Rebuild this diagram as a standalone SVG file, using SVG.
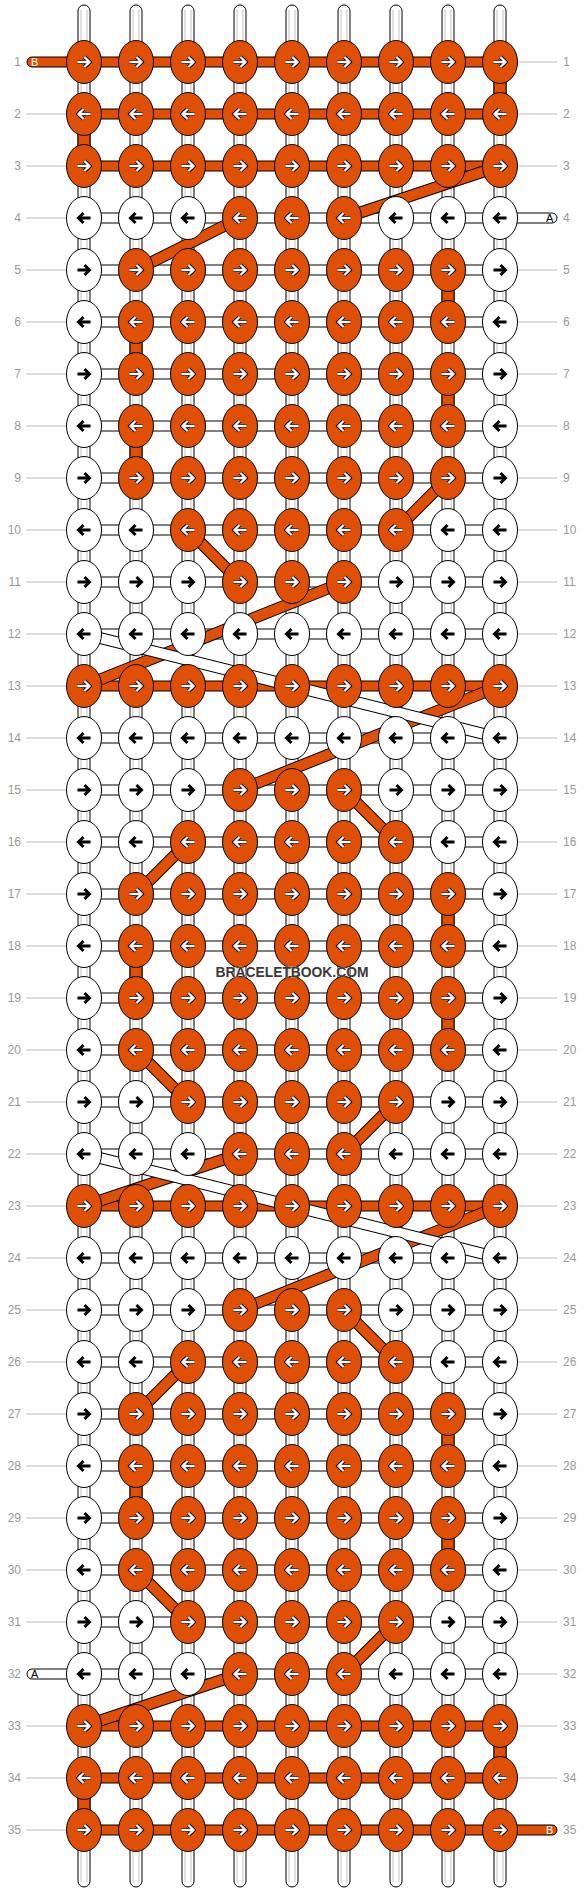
<svg xmlns="http://www.w3.org/2000/svg" xmlns:xlink="http://www.w3.org/1999/xlink" width="584" height="1892" viewBox="0 0 584 1892">
<style>
.tb{fill:#fff;stroke:#000;stroke-width:1}
.gl{stroke:#c4c4c4;stroke-width:1}
.hw{fill:#fff;stroke:#000;stroke-width:1}
.ho{fill:#DF4F05;stroke:#000;stroke-width:1}
.ll{stroke:#bbb;stroke-width:1}
.lb{font-family:"Liberation Sans",Arial,sans-serif;font-size:12px;fill:#999}
.lr{text-anchor:end}
.th{font-family:"Liberation Sans",Arial,sans-serif;font-size:11px}
.bk{fill:none;stroke:#000;stroke-width:12}
.bo{fill:none;stroke:#DF4F05;stroke-width:10}
.bw{fill:none;stroke:#fff;stroke-width:10}
.ko{fill:#DF4F05;stroke:#000;stroke-width:1}
.kw{fill:#fff;stroke:#000;stroke-width:1}
.ao{fill:none;stroke:#000;stroke-width:4.2}
.ai{fill:none;stroke:#fff;stroke-width:2.3}
.ab{fill:none;stroke:#000;stroke-width:3}
</style>
<defs>
<path id="pr" d="M-6.5,0H5.5M0.5,-5L5.5,0L0.5,5"/>
<path id="pl" d="M6.5,0H-5.5M-0.5,-5L-5.5,0L-0.5,5"/>
<g id="OR"><ellipse class="ko" rx="17.5" ry="21.5"/><use xlink:href="#pr" class="ao"/><use xlink:href="#pr" class="ai"/></g>
<g id="OL"><ellipse class="ko" rx="17.5" ry="21.5"/><use xlink:href="#pl" class="ao"/><use xlink:href="#pl" class="ai"/></g>
<g id="WR"><ellipse class="kw" rx="17.5" ry="21.5"/><use xlink:href="#pr" class="ab"/></g>
<g id="WL"><ellipse class="kw" rx="17.5" ry="21.5"/><use xlink:href="#pl" class="ab"/></g>
</defs>
<rect width="584" height="1892" fill="#fff"/>
<g id="labels">
<g class="ll">
<path d="M26,114H84M26,166H84M26,218H84M26,270H84M26,322H84M26,374H84M26,426H84M26,478H84M26,530H84M26,582H84M26,634H84M26,686H84M26,738H84M26,790H84M26,842H84M26,894H84M26,946H84M26,998H84M26,1050H84M26,1102H84M26,1154H84M26,1206H84M26,1258H84M26,1310H84M26,1362H84M26,1414H84M26,1466H84M26,1518H84M26,1570H84M26,1622H84M26,1726H84M26,1778H84M26,1830H84"/>
<path d="M500,62H557M500,114H557M500,166H557M500,270H557M500,322H557M500,374H557M500,426H557M500,478H557M500,530H557M500,582H557M500,634H557M500,686H557M500,738H557M500,790H557M500,842H557M500,894H557M500,946H557M500,998H557M500,1050H557M500,1102H557M500,1154H557M500,1206H557M500,1258H557M500,1310H557M500,1362H557M500,1414H557M500,1466H557M500,1518H557M500,1570H557M500,1622H557M500,1674H557M500,1726H557M500,1778H557"/>
</g>
<g class="lb lr">
<text x="21" y="66">1</text><text x="21" y="118">2</text><text x="21" y="170">3</text><text x="21" y="222">4</text><text x="21" y="274">5</text><text x="21" y="326">6</text><text x="21" y="378">7</text><text x="21" y="430">8</text><text x="21" y="482">9</text><text x="21" y="534">10</text><text x="21" y="586">11</text><text x="21" y="638">12</text><text x="21" y="690">13</text><text x="21" y="742">14</text><text x="21" y="794">15</text><text x="21" y="846">16</text><text x="21" y="898">17</text><text x="21" y="950">18</text><text x="21" y="1002">19</text><text x="21" y="1054">20</text><text x="21" y="1106">21</text><text x="21" y="1158">22</text><text x="21" y="1210">23</text><text x="21" y="1262">24</text><text x="21" y="1314">25</text><text x="21" y="1366">26</text><text x="21" y="1418">27</text><text x="21" y="1470">28</text><text x="21" y="1522">29</text><text x="21" y="1574">30</text><text x="21" y="1626">31</text><text x="21" y="1678">32</text><text x="21" y="1730">33</text><text x="21" y="1782">34</text><text x="21" y="1834">35</text>
</g>
<g class="lb">
<text x="563" y="66">1</text><text x="563" y="118">2</text><text x="563" y="170">3</text><text x="563" y="222">4</text><text x="563" y="274">5</text><text x="563" y="326">6</text><text x="563" y="378">7</text><text x="563" y="430">8</text><text x="563" y="482">9</text><text x="563" y="534">10</text><text x="563" y="586">11</text><text x="563" y="638">12</text><text x="563" y="690">13</text><text x="563" y="742">14</text><text x="563" y="794">15</text><text x="563" y="846">16</text><text x="563" y="898">17</text><text x="563" y="950">18</text><text x="563" y="1002">19</text><text x="563" y="1054">20</text><text x="563" y="1106">21</text><text x="563" y="1158">22</text><text x="563" y="1210">23</text><text x="563" y="1262">24</text><text x="563" y="1314">25</text><text x="563" y="1366">26</text><text x="563" y="1418">27</text><text x="563" y="1470">28</text><text x="563" y="1522">29</text><text x="563" y="1574">30</text><text x="563" y="1626">31</text><text x="563" y="1678">32</text><text x="563" y="1730">33</text><text x="563" y="1782">34</text><text x="563" y="1834">35</text>
</g>
</g>
<g id="strings">
<rect class="tb" x="78" y="5" width="12" height="1882" rx="6"/>
<rect class="tb" x="130" y="5" width="12" height="1882" rx="6"/>
<rect class="tb" x="182" y="5" width="12" height="1882" rx="6"/>
<rect class="tb" x="234" y="5" width="12" height="1882" rx="6"/>
<rect class="tb" x="286" y="5" width="12" height="1882" rx="6"/>
<rect class="tb" x="338" y="5" width="12" height="1882" rx="6"/>
<rect class="tb" x="390" y="5" width="12" height="1882" rx="6"/>
<rect class="tb" x="442" y="5" width="12" height="1882" rx="6"/>
<rect class="tb" x="494" y="5" width="12" height="1882" rx="6"/>
<path class="gl" d="M81,10V1882M87,10V1882M133,10V1882M139,10V1882M185,10V1882M191,10V1882M237,10V1882M243,10V1882M289,10V1882M295,10V1882M341,10V1882M347,10V1882M393,10V1882M399,10V1882M445,10V1882M451,10V1882M497,10V1882M503,10V1882"/>
</g>
<g id="connectors">
<rect class="ho" x="494" y="62" width="12" height="52"/>
<rect class="ho" x="78" y="114" width="12" height="52"/>
<rect class="ho" x="442" y="270" width="12" height="52"/>
<rect class="ho" x="130" y="322" width="12" height="52"/>
<rect class="ho" x="442" y="374" width="12" height="52"/>
<rect class="ho" x="130" y="426" width="12" height="52"/>
<rect class="ho" x="442" y="894" width="12" height="52"/>
<rect class="ho" x="130" y="946" width="12" height="52"/>
<rect class="ho" x="442" y="998" width="12" height="52"/>
<rect class="ho" x="442" y="1414" width="12" height="52"/>
<rect class="ho" x="130" y="1466" width="12" height="52"/>
<rect class="ho" x="442" y="1518" width="12" height="52"/>
<rect class="ho" x="494" y="1726" width="12" height="52"/>
<rect class="ho" x="78" y="1778" width="12" height="52"/>
<rect class="ho" x="84" y="57" width="416" height="10"/>
<rect class="ho" x="84" y="109" width="416" height="10"/>
<rect class="ho" x="84" y="161" width="416" height="10"/>
<rect class="hw" x="84" y="213" width="416" height="10"/>
<rect class="hw" x="84" y="265" width="416" height="10"/>
<rect class="hw" x="84" y="317" width="416" height="10"/>
<rect class="hw" x="84" y="369" width="416" height="10"/>
<rect class="hw" x="84" y="421" width="416" height="10"/>
<rect class="hw" x="84" y="473" width="416" height="10"/>
<rect class="hw" x="84" y="525" width="416" height="10"/>
<rect class="hw" x="84" y="577" width="416" height="10"/>
<rect class="hw" x="84" y="629" width="416" height="10"/>
<rect class="ho" x="84" y="681" width="416" height="10"/>
<rect class="hw" x="84" y="733" width="416" height="10"/>
<rect class="hw" x="84" y="785" width="416" height="10"/>
<rect class="hw" x="84" y="837" width="416" height="10"/>
<rect class="hw" x="84" y="889" width="416" height="10"/>
<rect class="hw" x="84" y="941" width="416" height="10"/>
<rect class="hw" x="84" y="993" width="416" height="10"/>
<rect class="hw" x="84" y="1045" width="416" height="10"/>
<rect class="hw" x="84" y="1097" width="416" height="10"/>
<rect class="hw" x="84" y="1149" width="416" height="10"/>
<rect class="ho" x="84" y="1201" width="416" height="10"/>
<rect class="hw" x="84" y="1253" width="416" height="10"/>
<rect class="hw" x="84" y="1305" width="416" height="10"/>
<rect class="hw" x="84" y="1357" width="416" height="10"/>
<rect class="hw" x="84" y="1409" width="416" height="10"/>
<rect class="hw" x="84" y="1461" width="416" height="10"/>
<rect class="hw" x="84" y="1513" width="416" height="10"/>
<rect class="hw" x="84" y="1565" width="416" height="10"/>
<rect class="hw" x="84" y="1617" width="416" height="10"/>
<rect class="hw" x="84" y="1669" width="416" height="10"/>
<rect class="ho" x="84" y="1721" width="416" height="10"/>
<rect class="ho" x="84" y="1773" width="416" height="10"/>
<rect class="ho" x="84" y="1825" width="416" height="10"/>
<rect class="ho" x="27" y="57" width="62" height="10" rx="5"/>
<rect class="hw" x="495" y="213" width="62" height="10" rx="5"/>
<rect class="hw" x="27" y="1669" width="62" height="10" rx="5"/>
<rect class="ho" x="495" y="1825" width="62" height="10" rx="5"/>
<text class="th" x="31" y="66" fill="#fff">B</text>
<text class="th" x="546" y="222" fill="#000">A</text>
<text class="th" x="31" y="1678" fill="#000">A</text>
<text class="th" x="546" y="1834" fill="#fff">B</text>
<path class="bk" d="M500,166L344,218M240,218L136,270M448,478L396,530M188,530L240,582M344,582L84,686M500,686L240,790M344,790L396,842M188,842L136,894M136,1050L188,1102M396,1102L344,1154M240,1154L84,1206M500,1206L240,1310M344,1310L396,1362M188,1362L136,1414M136,1570L188,1622M396,1622L344,1674M240,1674L84,1726"/>
<path class="bo" d="M500,166L344,218M240,218L136,270M448,478L396,530M188,530L240,582M344,582L84,686M500,686L240,790M344,790L396,842M188,842L136,894M136,1050L188,1102M396,1102L344,1154M240,1154L84,1206M500,1206L240,1310M344,1310L396,1362M188,1362L136,1414M136,1570L188,1622M396,1622L344,1674M240,1674L84,1726"/>
<path class="bk" d="M84,634L500,738M84,1154L500,1258"/>
<path class="bw" d="M84,634L500,738M84,1154L500,1258"/>
</g>
<g id="knots">
<g id="n1-1"><use xlink:href="#OR" x="84" y="62"/></g><g id="n1-2"><use xlink:href="#OR" x="136" y="62"/></g><g id="n1-3"><use xlink:href="#OR" x="188" y="62"/></g><g id="n1-4"><use xlink:href="#OR" x="240" y="62"/></g><g id="n1-5"><use xlink:href="#OR" x="292" y="62"/></g><g id="n1-6"><use xlink:href="#OR" x="344" y="62"/></g><g id="n1-7"><use xlink:href="#OR" x="396" y="62"/></g><g id="n1-8"><use xlink:href="#OR" x="448" y="62"/></g><g id="n1-9"><use xlink:href="#OR" x="500" y="62"/></g>
<g id="n2-1"><use xlink:href="#OL" x="84" y="114"/></g><g id="n2-2"><use xlink:href="#OL" x="136" y="114"/></g><g id="n2-3"><use xlink:href="#OL" x="188" y="114"/></g><g id="n2-4"><use xlink:href="#OL" x="240" y="114"/></g><g id="n2-5"><use xlink:href="#OL" x="292" y="114"/></g><g id="n2-6"><use xlink:href="#OL" x="344" y="114"/></g><g id="n2-7"><use xlink:href="#OL" x="396" y="114"/></g><g id="n2-8"><use xlink:href="#OL" x="448" y="114"/></g><g id="n2-9"><use xlink:href="#OL" x="500" y="114"/></g>
<g id="n3-1"><use xlink:href="#OR" x="84" y="166"/></g><g id="n3-2"><use xlink:href="#OR" x="136" y="166"/></g><g id="n3-3"><use xlink:href="#OR" x="188" y="166"/></g><g id="n3-4"><use xlink:href="#OR" x="240" y="166"/></g><g id="n3-5"><use xlink:href="#OR" x="292" y="166"/></g><g id="n3-6"><use xlink:href="#OR" x="344" y="166"/></g><g id="n3-7"><use xlink:href="#OR" x="396" y="166"/></g><g id="n3-8"><use xlink:href="#OR" x="448" y="166"/></g><g id="n3-9"><use xlink:href="#OR" x="500" y="166"/></g>
<g id="n4-1"><use xlink:href="#WL" x="84" y="218"/></g><g id="n4-2"><use xlink:href="#WL" x="136" y="218"/></g><g id="n4-3"><use xlink:href="#WL" x="188" y="218"/></g><g id="n4-4"><use xlink:href="#OL" x="240" y="218"/></g><g id="n4-5"><use xlink:href="#OL" x="292" y="218"/></g><g id="n4-6"><use xlink:href="#OL" x="344" y="218"/></g><g id="n4-7"><use xlink:href="#WL" x="396" y="218"/></g><g id="n4-8"><use xlink:href="#WL" x="448" y="218"/></g><g id="n4-9"><use xlink:href="#WL" x="500" y="218"/></g>
<g id="n5-1"><use xlink:href="#WR" x="84" y="270"/></g><g id="n5-2"><use xlink:href="#OR" x="136" y="270"/></g><g id="n5-3"><use xlink:href="#OR" x="188" y="270"/></g><g id="n5-4"><use xlink:href="#OR" x="240" y="270"/></g><g id="n5-5"><use xlink:href="#OR" x="292" y="270"/></g><g id="n5-6"><use xlink:href="#OR" x="344" y="270"/></g><g id="n5-7"><use xlink:href="#OR" x="396" y="270"/></g><g id="n5-8"><use xlink:href="#OR" x="448" y="270"/></g><g id="n5-9"><use xlink:href="#WR" x="500" y="270"/></g>
<g id="n6-1"><use xlink:href="#WL" x="84" y="322"/></g><g id="n6-2"><use xlink:href="#OL" x="136" y="322"/></g><g id="n6-3"><use xlink:href="#OL" x="188" y="322"/></g><g id="n6-4"><use xlink:href="#OL" x="240" y="322"/></g><g id="n6-5"><use xlink:href="#OL" x="292" y="322"/></g><g id="n6-6"><use xlink:href="#OL" x="344" y="322"/></g><g id="n6-7"><use xlink:href="#OL" x="396" y="322"/></g><g id="n6-8"><use xlink:href="#OL" x="448" y="322"/></g><g id="n6-9"><use xlink:href="#WL" x="500" y="322"/></g>
<g id="n7-1"><use xlink:href="#WR" x="84" y="374"/></g><g id="n7-2"><use xlink:href="#OR" x="136" y="374"/></g><g id="n7-3"><use xlink:href="#OR" x="188" y="374"/></g><g id="n7-4"><use xlink:href="#OR" x="240" y="374"/></g><g id="n7-5"><use xlink:href="#OR" x="292" y="374"/></g><g id="n7-6"><use xlink:href="#OR" x="344" y="374"/></g><g id="n7-7"><use xlink:href="#OR" x="396" y="374"/></g><g id="n7-8"><use xlink:href="#OR" x="448" y="374"/></g><g id="n7-9"><use xlink:href="#WR" x="500" y="374"/></g>
<g id="n8-1"><use xlink:href="#WL" x="84" y="426"/></g><g id="n8-2"><use xlink:href="#OL" x="136" y="426"/></g><g id="n8-3"><use xlink:href="#OL" x="188" y="426"/></g><g id="n8-4"><use xlink:href="#OL" x="240" y="426"/></g><g id="n8-5"><use xlink:href="#OL" x="292" y="426"/></g><g id="n8-6"><use xlink:href="#OL" x="344" y="426"/></g><g id="n8-7"><use xlink:href="#OL" x="396" y="426"/></g><g id="n8-8"><use xlink:href="#OL" x="448" y="426"/></g><g id="n8-9"><use xlink:href="#WL" x="500" y="426"/></g>
<g id="n9-1"><use xlink:href="#WR" x="84" y="478"/></g><g id="n9-2"><use xlink:href="#OR" x="136" y="478"/></g><g id="n9-3"><use xlink:href="#OR" x="188" y="478"/></g><g id="n9-4"><use xlink:href="#OR" x="240" y="478"/></g><g id="n9-5"><use xlink:href="#OR" x="292" y="478"/></g><g id="n9-6"><use xlink:href="#OR" x="344" y="478"/></g><g id="n9-7"><use xlink:href="#OR" x="396" y="478"/></g><g id="n9-8"><use xlink:href="#OR" x="448" y="478"/></g><g id="n9-9"><use xlink:href="#WR" x="500" y="478"/></g>
<g id="n10-1"><use xlink:href="#WL" x="84" y="530"/></g><g id="n10-2"><use xlink:href="#WL" x="136" y="530"/></g><g id="n10-3"><use xlink:href="#OL" x="188" y="530"/></g><g id="n10-4"><use xlink:href="#OL" x="240" y="530"/></g><g id="n10-5"><use xlink:href="#OL" x="292" y="530"/></g><g id="n10-6"><use xlink:href="#OL" x="344" y="530"/></g><g id="n10-7"><use xlink:href="#OL" x="396" y="530"/></g><g id="n10-8"><use xlink:href="#WL" x="448" y="530"/></g><g id="n10-9"><use xlink:href="#WL" x="500" y="530"/></g>
<g id="n11-1"><use xlink:href="#WR" x="84" y="582"/></g><g id="n11-2"><use xlink:href="#WR" x="136" y="582"/></g><g id="n11-3"><use xlink:href="#WR" x="188" y="582"/></g><g id="n11-4"><use xlink:href="#OR" x="240" y="582"/></g><g id="n11-5"><use xlink:href="#OR" x="292" y="582"/></g><g id="n11-6"><use xlink:href="#OR" x="344" y="582"/></g><g id="n11-7"><use xlink:href="#WR" x="396" y="582"/></g><g id="n11-8"><use xlink:href="#WR" x="448" y="582"/></g><g id="n11-9"><use xlink:href="#WR" x="500" y="582"/></g>
<g id="n12-1"><use xlink:href="#WL" x="84" y="634"/></g><g id="n12-2"><use xlink:href="#WL" x="136" y="634"/></g><g id="n12-3"><use xlink:href="#WL" x="188" y="634"/></g><g id="n12-4"><use xlink:href="#WL" x="240" y="634"/></g><g id="n12-5"><use xlink:href="#WL" x="292" y="634"/></g><g id="n12-6"><use xlink:href="#WL" x="344" y="634"/></g><g id="n12-7"><use xlink:href="#WL" x="396" y="634"/></g><g id="n12-8"><use xlink:href="#WL" x="448" y="634"/></g><g id="n12-9"><use xlink:href="#WL" x="500" y="634"/></g>
<g id="n13-1"><use xlink:href="#OR" x="84" y="686"/></g><g id="n13-2"><use xlink:href="#OR" x="136" y="686"/></g><g id="n13-3"><use xlink:href="#OR" x="188" y="686"/></g><g id="n13-4"><use xlink:href="#OR" x="240" y="686"/></g><g id="n13-5"><use xlink:href="#OR" x="292" y="686"/></g><g id="n13-6"><use xlink:href="#OR" x="344" y="686"/></g><g id="n13-7"><use xlink:href="#OR" x="396" y="686"/></g><g id="n13-8"><use xlink:href="#OR" x="448" y="686"/></g><g id="n13-9"><use xlink:href="#OR" x="500" y="686"/></g>
<g id="n14-1"><use xlink:href="#WL" x="84" y="738"/></g><g id="n14-2"><use xlink:href="#WL" x="136" y="738"/></g><g id="n14-3"><use xlink:href="#WL" x="188" y="738"/></g><g id="n14-4"><use xlink:href="#WL" x="240" y="738"/></g><g id="n14-5"><use xlink:href="#WL" x="292" y="738"/></g><g id="n14-6"><use xlink:href="#WL" x="344" y="738"/></g><g id="n14-7"><use xlink:href="#WL" x="396" y="738"/></g><g id="n14-8"><use xlink:href="#WL" x="448" y="738"/></g><g id="n14-9"><use xlink:href="#WL" x="500" y="738"/></g>
<g id="n15-1"><use xlink:href="#WR" x="84" y="790"/></g><g id="n15-2"><use xlink:href="#WR" x="136" y="790"/></g><g id="n15-3"><use xlink:href="#WR" x="188" y="790"/></g><g id="n15-4"><use xlink:href="#OR" x="240" y="790"/></g><g id="n15-5"><use xlink:href="#OR" x="292" y="790"/></g><g id="n15-6"><use xlink:href="#OR" x="344" y="790"/></g><g id="n15-7"><use xlink:href="#WR" x="396" y="790"/></g><g id="n15-8"><use xlink:href="#WR" x="448" y="790"/></g><g id="n15-9"><use xlink:href="#WR" x="500" y="790"/></g>
<g id="n16-1"><use xlink:href="#WL" x="84" y="842"/></g><g id="n16-2"><use xlink:href="#WL" x="136" y="842"/></g><g id="n16-3"><use xlink:href="#OL" x="188" y="842"/></g><g id="n16-4"><use xlink:href="#OL" x="240" y="842"/></g><g id="n16-5"><use xlink:href="#OL" x="292" y="842"/></g><g id="n16-6"><use xlink:href="#OL" x="344" y="842"/></g><g id="n16-7"><use xlink:href="#OL" x="396" y="842"/></g><g id="n16-8"><use xlink:href="#WL" x="448" y="842"/></g><g id="n16-9"><use xlink:href="#WL" x="500" y="842"/></g>
<g id="n17-1"><use xlink:href="#WR" x="84" y="894"/></g><g id="n17-2"><use xlink:href="#OR" x="136" y="894"/></g><g id="n17-3"><use xlink:href="#OR" x="188" y="894"/></g><g id="n17-4"><use xlink:href="#OR" x="240" y="894"/></g><g id="n17-5"><use xlink:href="#OR" x="292" y="894"/></g><g id="n17-6"><use xlink:href="#OR" x="344" y="894"/></g><g id="n17-7"><use xlink:href="#OR" x="396" y="894"/></g><g id="n17-8"><use xlink:href="#OR" x="448" y="894"/></g><g id="n17-9"><use xlink:href="#WR" x="500" y="894"/></g>
<g id="n18-1"><use xlink:href="#WL" x="84" y="946"/></g><g id="n18-2"><use xlink:href="#OL" x="136" y="946"/></g><g id="n18-3"><use xlink:href="#OL" x="188" y="946"/></g><g id="n18-4"><use xlink:href="#OL" x="240" y="946"/></g><g id="n18-5"><use xlink:href="#OL" x="292" y="946"/></g><g id="n18-6"><use xlink:href="#OL" x="344" y="946"/></g><g id="n18-7"><use xlink:href="#OL" x="396" y="946"/></g><g id="n18-8"><use xlink:href="#OL" x="448" y="946"/></g><g id="n18-9"><use xlink:href="#WL" x="500" y="946"/></g>
<g id="n19-1"><use xlink:href="#WR" x="84" y="998"/></g><g id="n19-2"><use xlink:href="#OR" x="136" y="998"/></g><g id="n19-3"><use xlink:href="#OR" x="188" y="998"/></g><g id="n19-4"><use xlink:href="#OR" x="240" y="998"/></g><g id="n19-5"><use xlink:href="#OR" x="292" y="998"/></g><g id="n19-6"><use xlink:href="#OR" x="344" y="998"/></g><g id="n19-7"><use xlink:href="#OR" x="396" y="998"/></g><g id="n19-8"><use xlink:href="#OR" x="448" y="998"/></g><g id="n19-9"><use xlink:href="#WR" x="500" y="998"/></g>
<g id="n20-1"><use xlink:href="#WL" x="84" y="1050"/></g><g id="n20-2"><use xlink:href="#OL" x="136" y="1050"/></g><g id="n20-3"><use xlink:href="#OL" x="188" y="1050"/></g><g id="n20-4"><use xlink:href="#OL" x="240" y="1050"/></g><g id="n20-5"><use xlink:href="#OL" x="292" y="1050"/></g><g id="n20-6"><use xlink:href="#OL" x="344" y="1050"/></g><g id="n20-7"><use xlink:href="#OL" x="396" y="1050"/></g><g id="n20-8"><use xlink:href="#OL" x="448" y="1050"/></g><g id="n20-9"><use xlink:href="#WL" x="500" y="1050"/></g>
<g id="n21-1"><use xlink:href="#WR" x="84" y="1102"/></g><g id="n21-2"><use xlink:href="#WR" x="136" y="1102"/></g><g id="n21-3"><use xlink:href="#OR" x="188" y="1102"/></g><g id="n21-4"><use xlink:href="#OR" x="240" y="1102"/></g><g id="n21-5"><use xlink:href="#OR" x="292" y="1102"/></g><g id="n21-6"><use xlink:href="#OR" x="344" y="1102"/></g><g id="n21-7"><use xlink:href="#OR" x="396" y="1102"/></g><g id="n21-8"><use xlink:href="#WR" x="448" y="1102"/></g><g id="n21-9"><use xlink:href="#WR" x="500" y="1102"/></g>
<g id="n22-1"><use xlink:href="#WL" x="84" y="1154"/></g><g id="n22-2"><use xlink:href="#WL" x="136" y="1154"/></g><g id="n22-3"><use xlink:href="#WL" x="188" y="1154"/></g><g id="n22-4"><use xlink:href="#OL" x="240" y="1154"/></g><g id="n22-5"><use xlink:href="#OL" x="292" y="1154"/></g><g id="n22-6"><use xlink:href="#OL" x="344" y="1154"/></g><g id="n22-7"><use xlink:href="#WL" x="396" y="1154"/></g><g id="n22-8"><use xlink:href="#WL" x="448" y="1154"/></g><g id="n22-9"><use xlink:href="#WL" x="500" y="1154"/></g>
<g id="n23-1"><use xlink:href="#OR" x="84" y="1206"/></g><g id="n23-2"><use xlink:href="#OR" x="136" y="1206"/></g><g id="n23-3"><use xlink:href="#OR" x="188" y="1206"/></g><g id="n23-4"><use xlink:href="#OR" x="240" y="1206"/></g><g id="n23-5"><use xlink:href="#OR" x="292" y="1206"/></g><g id="n23-6"><use xlink:href="#OR" x="344" y="1206"/></g><g id="n23-7"><use xlink:href="#OR" x="396" y="1206"/></g><g id="n23-8"><use xlink:href="#OR" x="448" y="1206"/></g><g id="n23-9"><use xlink:href="#OR" x="500" y="1206"/></g>
<g id="n24-1"><use xlink:href="#WL" x="84" y="1258"/></g><g id="n24-2"><use xlink:href="#WL" x="136" y="1258"/></g><g id="n24-3"><use xlink:href="#WL" x="188" y="1258"/></g><g id="n24-4"><use xlink:href="#WL" x="240" y="1258"/></g><g id="n24-5"><use xlink:href="#WL" x="292" y="1258"/></g><g id="n24-6"><use xlink:href="#WL" x="344" y="1258"/></g><g id="n24-7"><use xlink:href="#WL" x="396" y="1258"/></g><g id="n24-8"><use xlink:href="#WL" x="448" y="1258"/></g><g id="n24-9"><use xlink:href="#WL" x="500" y="1258"/></g>
<g id="n25-1"><use xlink:href="#WR" x="84" y="1310"/></g><g id="n25-2"><use xlink:href="#WR" x="136" y="1310"/></g><g id="n25-3"><use xlink:href="#WR" x="188" y="1310"/></g><g id="n25-4"><use xlink:href="#OR" x="240" y="1310"/></g><g id="n25-5"><use xlink:href="#OR" x="292" y="1310"/></g><g id="n25-6"><use xlink:href="#OR" x="344" y="1310"/></g><g id="n25-7"><use xlink:href="#WR" x="396" y="1310"/></g><g id="n25-8"><use xlink:href="#WR" x="448" y="1310"/></g><g id="n25-9"><use xlink:href="#WR" x="500" y="1310"/></g>
<g id="n26-1"><use xlink:href="#WL" x="84" y="1362"/></g><g id="n26-2"><use xlink:href="#WL" x="136" y="1362"/></g><g id="n26-3"><use xlink:href="#OL" x="188" y="1362"/></g><g id="n26-4"><use xlink:href="#OL" x="240" y="1362"/></g><g id="n26-5"><use xlink:href="#OL" x="292" y="1362"/></g><g id="n26-6"><use xlink:href="#OL" x="344" y="1362"/></g><g id="n26-7"><use xlink:href="#OL" x="396" y="1362"/></g><g id="n26-8"><use xlink:href="#WL" x="448" y="1362"/></g><g id="n26-9"><use xlink:href="#WL" x="500" y="1362"/></g>
<g id="n27-1"><use xlink:href="#WR" x="84" y="1414"/></g><g id="n27-2"><use xlink:href="#OR" x="136" y="1414"/></g><g id="n27-3"><use xlink:href="#OR" x="188" y="1414"/></g><g id="n27-4"><use xlink:href="#OR" x="240" y="1414"/></g><g id="n27-5"><use xlink:href="#OR" x="292" y="1414"/></g><g id="n27-6"><use xlink:href="#OR" x="344" y="1414"/></g><g id="n27-7"><use xlink:href="#OR" x="396" y="1414"/></g><g id="n27-8"><use xlink:href="#OR" x="448" y="1414"/></g><g id="n27-9"><use xlink:href="#WR" x="500" y="1414"/></g>
<g id="n28-1"><use xlink:href="#WL" x="84" y="1466"/></g><g id="n28-2"><use xlink:href="#OL" x="136" y="1466"/></g><g id="n28-3"><use xlink:href="#OL" x="188" y="1466"/></g><g id="n28-4"><use xlink:href="#OL" x="240" y="1466"/></g><g id="n28-5"><use xlink:href="#OL" x="292" y="1466"/></g><g id="n28-6"><use xlink:href="#OL" x="344" y="1466"/></g><g id="n28-7"><use xlink:href="#OL" x="396" y="1466"/></g><g id="n28-8"><use xlink:href="#OL" x="448" y="1466"/></g><g id="n28-9"><use xlink:href="#WL" x="500" y="1466"/></g>
<g id="n29-1"><use xlink:href="#WR" x="84" y="1518"/></g><g id="n29-2"><use xlink:href="#OR" x="136" y="1518"/></g><g id="n29-3"><use xlink:href="#OR" x="188" y="1518"/></g><g id="n29-4"><use xlink:href="#OR" x="240" y="1518"/></g><g id="n29-5"><use xlink:href="#OR" x="292" y="1518"/></g><g id="n29-6"><use xlink:href="#OR" x="344" y="1518"/></g><g id="n29-7"><use xlink:href="#OR" x="396" y="1518"/></g><g id="n29-8"><use xlink:href="#OR" x="448" y="1518"/></g><g id="n29-9"><use xlink:href="#WR" x="500" y="1518"/></g>
<g id="n30-1"><use xlink:href="#WL" x="84" y="1570"/></g><g id="n30-2"><use xlink:href="#OL" x="136" y="1570"/></g><g id="n30-3"><use xlink:href="#OL" x="188" y="1570"/></g><g id="n30-4"><use xlink:href="#OL" x="240" y="1570"/></g><g id="n30-5"><use xlink:href="#OL" x="292" y="1570"/></g><g id="n30-6"><use xlink:href="#OL" x="344" y="1570"/></g><g id="n30-7"><use xlink:href="#OL" x="396" y="1570"/></g><g id="n30-8"><use xlink:href="#OL" x="448" y="1570"/></g><g id="n30-9"><use xlink:href="#WL" x="500" y="1570"/></g>
<g id="n31-1"><use xlink:href="#WR" x="84" y="1622"/></g><g id="n31-2"><use xlink:href="#WR" x="136" y="1622"/></g><g id="n31-3"><use xlink:href="#OR" x="188" y="1622"/></g><g id="n31-4"><use xlink:href="#OR" x="240" y="1622"/></g><g id="n31-5"><use xlink:href="#OR" x="292" y="1622"/></g><g id="n31-6"><use xlink:href="#OR" x="344" y="1622"/></g><g id="n31-7"><use xlink:href="#OR" x="396" y="1622"/></g><g id="n31-8"><use xlink:href="#WR" x="448" y="1622"/></g><g id="n31-9"><use xlink:href="#WR" x="500" y="1622"/></g>
<g id="n32-1"><use xlink:href="#WL" x="84" y="1674"/></g><g id="n32-2"><use xlink:href="#WL" x="136" y="1674"/></g><g id="n32-3"><use xlink:href="#WL" x="188" y="1674"/></g><g id="n32-4"><use xlink:href="#OL" x="240" y="1674"/></g><g id="n32-5"><use xlink:href="#OL" x="292" y="1674"/></g><g id="n32-6"><use xlink:href="#OL" x="344" y="1674"/></g><g id="n32-7"><use xlink:href="#WL" x="396" y="1674"/></g><g id="n32-8"><use xlink:href="#WL" x="448" y="1674"/></g><g id="n32-9"><use xlink:href="#WL" x="500" y="1674"/></g>
<g id="n33-1"><use xlink:href="#OR" x="84" y="1726"/></g><g id="n33-2"><use xlink:href="#OR" x="136" y="1726"/></g><g id="n33-3"><use xlink:href="#OR" x="188" y="1726"/></g><g id="n33-4"><use xlink:href="#OR" x="240" y="1726"/></g><g id="n33-5"><use xlink:href="#OR" x="292" y="1726"/></g><g id="n33-6"><use xlink:href="#OR" x="344" y="1726"/></g><g id="n33-7"><use xlink:href="#OR" x="396" y="1726"/></g><g id="n33-8"><use xlink:href="#OR" x="448" y="1726"/></g><g id="n33-9"><use xlink:href="#OR" x="500" y="1726"/></g>
<g id="n34-1"><use xlink:href="#OL" x="84" y="1778"/></g><g id="n34-2"><use xlink:href="#OL" x="136" y="1778"/></g><g id="n34-3"><use xlink:href="#OL" x="188" y="1778"/></g><g id="n34-4"><use xlink:href="#OL" x="240" y="1778"/></g><g id="n34-5"><use xlink:href="#OL" x="292" y="1778"/></g><g id="n34-6"><use xlink:href="#OL" x="344" y="1778"/></g><g id="n34-7"><use xlink:href="#OL" x="396" y="1778"/></g><g id="n34-8"><use xlink:href="#OL" x="448" y="1778"/></g><g id="n34-9"><use xlink:href="#OL" x="500" y="1778"/></g>
<g id="n35-1"><use xlink:href="#OR" x="84" y="1830"/></g><g id="n35-2"><use xlink:href="#OR" x="136" y="1830"/></g><g id="n35-3"><use xlink:href="#OR" x="188" y="1830"/></g><g id="n35-4"><use xlink:href="#OR" x="240" y="1830"/></g><g id="n35-5"><use xlink:href="#OR" x="292" y="1830"/></g><g id="n35-6"><use xlink:href="#OR" x="344" y="1830"/></g><g id="n35-7"><use xlink:href="#OR" x="396" y="1830"/></g><g id="n35-8"><use xlink:href="#OR" x="448" y="1830"/></g><g id="n35-9"><use xlink:href="#OR" x="500" y="1830"/></g>
</g>
<text id="watermark" x="292" y="977" text-anchor="middle" font-family="'Liberation Sans',Arial,sans-serif" font-weight="bold" font-size="15" textLength="153" lengthAdjust="spacingAndGlyphs" fill="#3a3a3a" stroke="#fff" stroke-width="0.6" paint-order="stroke">BRACELETBOOK.COM</text>
</svg>
